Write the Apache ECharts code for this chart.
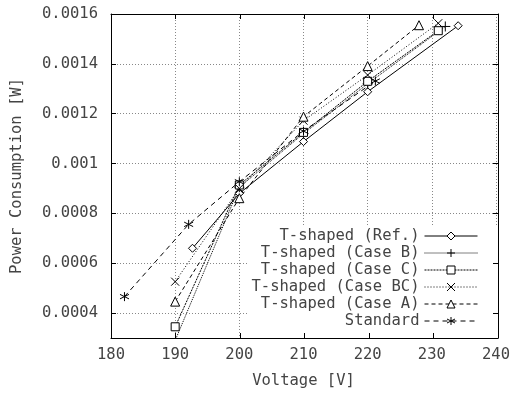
<!DOCTYPE html>
<html><head><meta charset="utf-8">
<script src="https://cdn.jsdelivr.net/npm/echarts@6/dist/echarts.min.js"></script>
<style>html,body{margin:0;padding:0;background:#fff}#c{width:513px;height:394px}</style>
</head><body><div id="c"></div>
<script>
const seriesNames = ['T-shaped (Ref.)', 'T-shaped (Case B)', 'T-shaped (Case C)', 'T-shaped (Case BC)', 'T-shaped (Case A)', 'Standard'];
const refData = [[192.7, 0.00066], [200, 0.00088], [210, 0.001088], [220, 0.001288], [234.1, 0.001553]];
const caseBData = [[190, 0.00029], [200, 0.000905], [210, 0.00112], [220, 0.00132], [232.1, 0.00155]];
const caseCData = [[190, 0.000345], [200, 0.000914], [210, 0.001125], [220, 0.00133], [231, 0.001533]];
const caseBCData = [[190, 0.000526], [200, 0.0009], [210, 0.001172], [220, 0.001355], [231, 0.001563]];
const caseAData = [[190, 0.000446], [200, 0.000861], [210, 0.001188], [220, 0.001391], [228, 0.001555]];
const standardData = [[182.1, 0.000466], [192.1, 0.000756], [200, 0.000927], [210, 0.00113], [221.2, 0.001331]];
const yTickValues = [0.0004, 0.0006, 0.0008, 0.001, 0.0012, 0.0014, 0.0016];

const FONT = 'DejaVu Sans Mono';
const FS = 15.5;
const TXT = '#444';
const gridRect = {left: 111, top: 14, right: 15, bottom: 56};

const chart = echarts.init(document.getElementById('c'));

const symPlus = 'path://M5,0L5,10M0,5L10,5';
const symX = 'path://M0,0L10,10M0,10L10,0';
const symStar = 'path://M5,0L5,10M0.7,2.5L9.3,7.5M0.7,7.5L9.3,2.5';

function mk(name, data, lineType, symbol, size, hollow) {
  return {
    name, type: 'line', data, xAxisIndex: 0, yAxisIndex: 0,
    clip: true, animation: false,
    symbol, symbolSize: size, showSymbol: true,
    color: '#000',
    lineStyle: {color: '#000', width: 1, type: lineType},
    itemStyle: hollow ? {color: '#fff', borderColor: '#000', borderWidth: 1}
                      : {color: 'none', borderColor: '#000', borderWidth: 1}
  };
}

const frameX = (pos) => ({
  gridIndex: 1, type: 'value', min: 180, max: 240, interval: 10, position: pos, z: 10,
  axisLine: {show: true, onZero: false, lineStyle: {color: '#000', width: 1}},
  axisTick: {show: true, inside: true, length: 5, lineStyle: {color: '#000'}},
  axisLabel: {show: false}, splitLine: {show: false}
});
const frameY = (pos) => ({
  gridIndex: 1, type: 'value', min: 0.0003, max: 0.0016, position: pos, z: 10,
  axisLine: {show: true, onZero: false, lineStyle: {color: '#000', width: 1}},
  axisTick: {show: true, inside: true, length: 5, customValues: yTickValues, lineStyle: {color: '#000'}},
  axisLabel: {show: false}, splitLine: {show: false}
});

chart.setOption({
  animation: false,
  backgroundColor: '#fff',
  grid: [Object.assign({}, gridRect), Object.assign({}, gridRect)],
  xAxis: [
    {
      gridIndex: 0, type: 'value', min: 180, max: 240, interval: 10, position: 'bottom', z: 0,
      name: 'Voltage [V]', nameLocation: 'middle', nameGap: 35,
      nameTextStyle: {fontFamily: FONT, fontSize: FS, color: TXT},
      axisLine: {show: false}, axisTick: {show: false},
      axisLabel: {margin: 9, fontFamily: FONT, fontSize: FS, color: TXT},
      splitLine: {show: true, lineStyle: {type: [1, 2], color: '#888', width: 1}}
    },
    frameX('bottom'), frameX('top')
  ],
  yAxis: [
    {
      gridIndex: 0, type: 'value', min: 0.0003, max: 0.0016, position: 'left', z: 0,
      name: 'Power Consumption [W]', nameLocation: 'middle', nameGap: 86, nameRotate: 90,
      nameTextStyle: {fontFamily: FONT, fontSize: FS, color: TXT},
      axisLine: {show: false},
      axisTick: {show: false, customValues: yTickValues},
      axisLabel: {margin: 13, fontFamily: FONT, fontSize: FS, color: TXT, customValues: yTickValues,
        formatter: v => String(+(+v).toFixed(4))},
      splitLine: {show: true, lineStyle: {type: [1, 2], color: '#888', width: 1}}
    },
    frameY('left'), frameY('right')
  ],
  legend: {
    orient: 'vertical', align: 'right', right: 16, bottom: 57, z: 4,
    backgroundColor: '#fff', padding: [2, 19, 8, 4],
    itemWidth: 53, itemHeight: 10, itemGap: 1,
    lineStyle: {width: 1},
    itemStyle: {borderWidth: 1},
    textStyle: {fontFamily: FONT, fontSize: FS, color: TXT},
    data: seriesNames
  },
  series: [
    mk(seriesNames[0], refData, 'solid', 'diamond', 8, true),
    mk(seriesNames[1], caseBData, [1, 1], symPlus, 10, false),
    mk(seriesNames[2], caseCData, [2, 1], 'rect', 8, true),
    mk(seriesNames[3], caseBCData, [1, 2], symX, 8, false),
    mk(seriesNames[4], caseAData, [4, 3], 'triangle', 9, true),
    mk(seriesNames[5], standardData, [5, 4], symStar, 9, false)
  ]
});
</script>
</body></html>
